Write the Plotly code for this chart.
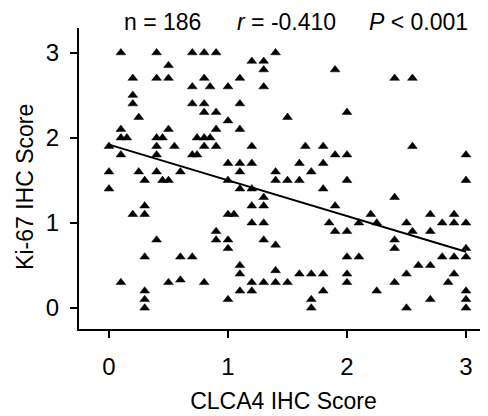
import plotly.graph_objects as go

# CLCA4 IHC score (x) and Ki-67 IHC score (y)
clca4 = [
    0.1, 0.4, 0.7, 0.5, 0.2, 0.4, 0.5, 0.7, 0.2, 0.2, 0.7, 0.25, 0.1, 0.5,
    0.1, 0.15, 0.4, 0.45, 0.74, 0.0, 0.4, 0.55, 0.1, 0.4, 0.7, 0.74,
    0.0, 0.25, 0.4, 0.6,
    0.3, 0.45, 0.5, 0.0, 0.3, 0.2, 0.3, 0.4, 0.3, 0.6, 0.7, 0.1, 0.5, 0.6,
    0.3, 0.3, 0.3,
    0.8, 0.9, 1.4, 1.2, 1.3, 1.3, 1.9, 0.8, 1.1, 0.85, 1.0, 1.3, 0.8, 1.1,
    0.8, 0.9, 1.0, 1.5, 0.9, 1.1, 0.8, 0.85, 0.8, 0.9, 1.2, 1.65, 1.8,
    1.9, 1.0, 1.1, 1.2, 1.6, 1.8, 1.1, 1.4, 1.7,
    1.4, 1.5, 1.6, 1.0, 1.1, 1.2, 1.8, 1.3, 1.2, 1.3, 1.9, 1.0, 1.05,
    1.2, 1.3, 1.85, 1.9, 0.9, 0.9, 1.0, 1.3, 1.4, 1.0, 1.1, 1.1, 1.4,
    1.6, 1.7, 1.8, 0.8, 1.2, 1.3, 1.4, 1.5, 1.1, 1.2, 1.8, 1.0, 1.7, 1.7,
    2.4, 2.55, 2.0, 2.55, 2.0, 3.0,
    2.0, 3.0, 2.4, 2.2, 2.7, 2.9, 2.1, 2.25, 2.5, 2.8, 2.9, 3.0, 2.0,
    2.55, 2.7, 2.4, 2.4, 3.0, 2.0, 2.1, 2.8, 2.9, 3.0, 2.6, 2.7, 2.0,
    2.5, 2.9, 2.0, 2.4, 2.85, 2.25, 3.0, 3.0, 3.0, 2.7, 2.5,
]
ki67 = [
    3.0, 3.0, 3.0, 2.85, 2.7, 2.7, 2.7, 2.6, 2.5, 2.4, 2.4, 2.24, 2.1, 2.1,
    2.0, 2.0, 2.0, 2.0, 2.0, 1.9, 1.9, 1.9, 1.8, 1.8, 1.8, 1.8,
    1.6, 1.6, 1.6, 1.6,
    1.5, 1.5, 1.5, 1.4, 1.2, 1.1, 1.1, 0.8, 0.6, 0.6, 0.6, 0.3, 0.3, 0.33,
    0.2, 0.1, 0.0,
    3.0, 3.0, 3.0, 2.9, 2.9, 2.8, 2.8, 2.7, 2.7, 2.6, 2.6, 2.6, 2.4, 2.4,
    2.3, 2.3, 2.2, 2.24, 2.1, 2.1, 2.0, 2.0, 1.9, 1.9, 1.9, 1.9, 1.9,
    1.8, 1.7, 1.7, 1.7, 1.7, 1.7, 1.6, 1.6, 1.6,
    1.5, 1.5, 1.5, 1.5, 1.4, 1.4, 1.4, 1.3, 1.2, 1.2, 1.2, 1.1, 1.1,
    1.0, 1.0, 1.0, 0.9, 0.9, 0.8, 0.8, 0.8, 0.74, 0.7, 0.5, 0.4, 0.44,
    0.4, 0.4, 0.4, 0.3, 0.3, 0.3, 0.3, 0.3, 0.2, 0.2, 0.2, 0.1, 0.1, 0.0,
    2.7, 2.7, 2.3, 1.9, 1.8, 1.8,
    1.5, 1.5, 1.3, 1.1, 1.1, 1.1, 1.0, 1.0, 1.0, 1.0, 1.0, 1.0, 0.9,
    0.9, 0.9, 0.8, 0.7, 0.7, 0.6, 0.6, 0.6, 0.6, 0.6, 0.5, 0.5, 0.4,
    0.4, 0.4, 0.3, 0.3, 0.3, 0.2, 0.2, 0.1, 0.0, 0.1, 0.0,
]

# regression line end points
fit_x = [0, 3]
fit_y = [1.92, 0.66]

tick_vals = [0, 1, 2, 3]
tick_text = ["0", "1", "2", "3"]

FONT = "Arial, Liberation Sans, sans-serif"

fig = go.Figure()
fig.add_trace(go.Scatter(
    x=clca4, y=ki67, mode="markers",
    marker=dict(symbol="triangle-up", size=8.5, color="black",
                line=dict(color="black", width=0.5)),
    showlegend=False, hoverinfo="skip",
))
fig.add_trace(go.Scatter(
    x=fit_x, y=fit_y, mode="lines",
    line=dict(color="black", width=2),
    showlegend=False, hoverinfo="skip",
))

axis_common = dict(
    showgrid=False, zeroline=False, showline=True, linecolor="black",
    linewidth=2, ticks="outside", ticklen=7, tickwidth=2, tickcolor="black",
    tickvals=tick_vals, ticktext=tick_text, automargin=False,
    tickfont=dict(family=FONT, size=24, color="black"),
)

fig.update_xaxes(
    range=[-0.252, 3.185], **axis_common,
    ticklabelstandoff=8,
    title=dict(text="CLCA4 IHC Score", font=dict(family=FONT, size=23, color="black"), standoff=14),
)
fig.update_yaxes(
    range=[-0.247, 3.29], **axis_common,
    ticklabelstandoff=6,
)

# y-axis title (placed slightly below the axis centre, as in the reference)
fig.add_annotation(
    text="Ki-67 IHC Score", textangle=-90,
    x=-0.132, xref="paper", y=0.472, yref="paper",
    showarrow=False, xanchor="center", yanchor="middle",
    font=dict(family=FONT, size=23, color="black"),
)

annots = [
    ("n = 186", 0.45),
    ("<i>r</i> = -0.410", 1.49),
    ("<i>P</i> < 0.001", 2.605),
]
for txt, xpos in annots:
    fig.add_annotation(
        text=txt, x=xpos, xref="x", y=1.02, yref="paper",
        showarrow=False, xanchor="center", yanchor="middle",
        font=dict(family=FONT, size=23, color="black"),
    )

# the page body adds an 8 px margin, so the figure is 8 px smaller
fig.update_layout(
    width=480, height=408,
    margin=dict(l=71, r=0, t=20, b=87),
    paper_bgcolor="white", plot_bgcolor="white",
)

fig.write_html("out.html")
